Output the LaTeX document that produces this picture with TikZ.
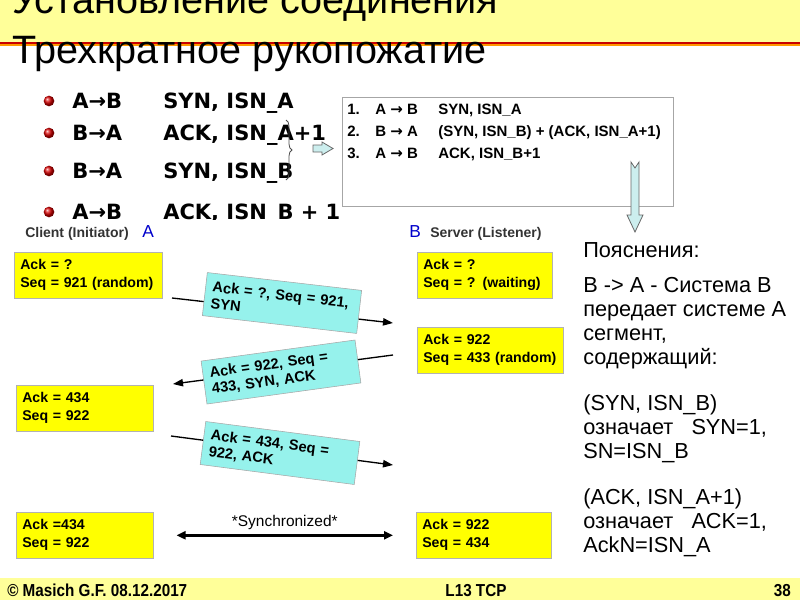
\documentclass[tikz,border=0pt]{standalone}
\usepackage{fontspec}
\setmainfont{Liberation Sans}
\newfontfamily\bulletfont{DejaVu Sans}
\newfontfamily\footfont{Liberation Sans}[FakeStretch=0.88]
\usetikzlibrary{arrows.meta,decorations.pathreplacing,shadings}

\definecolor{bandyellow}{RGB}{255,255,153}
\definecolor{boxyellow}{RGB}{255,255,0}
\definecolor{msgcyan}{RGB}{150,242,236}
\definecolor{arrowcyan}{RGB}{204,238,238}
\definecolor{sideblue}{RGB}{0,0,204}
\definecolor{titlered}{RGB}{200,0,0}
\definecolor{titleorange}{RGB}{255,153,0}

\newcommand{\msgto}{{\bulletfont →}}

\begin{document}
\begin{tikzpicture}[x=0.75pt, y=-0.75pt,
  ball/.style={circle, shading=ball, ball color=red!85!black, minimum size=8pt, inner sep=0pt},
  bul/.style={anchor=base west, inner sep=0pt, font=\bulletfont\bfseries\fontsize{15.75}{18}\selectfont},
  liststep/.style={anchor=base west, inner sep=0pt, font=\bfseries\fontsize{11.25}{13}\selectfont},
  ybox/.style={draw=gray!60, fill=boxyellow, anchor=north west, align=left, text width=#1,
               minimum height=34.5pt, inner xsep=4.5pt, inner ysep=2pt,
               font=\bfseries\fontsize{10.6}{13.5}\selectfont},
  msgbox/.style={draw=gray!70, fill=msgcyan, align=left, text width=106pt, minimum height=32.5pt,
                 inner xsep=5.25pt, font=\bfseries\fontsize{11}{12.5}\selectfont},
  msgarrow/.style={-{Triangle[length=7.5pt, width=5.5pt]}, line width=1pt},
  syncarrow/.style={{Triangle[length=6.75pt, width=6pt]}-{Triangle[length=6.75pt, width=6pt]},
                    line width=2.25pt, shorten <=17.25pt, shorten >=17.25pt},
  side/.style={anchor=base west, inner sep=0pt, font=\bfseries\fontsize{10.5}{12}\selectfont, text=black!80},
  sidelabel/.style={anchor=base west, inner sep=0pt, font=\fontsize{13}{15}\selectfont, text=sideblue},
  note/.style={anchor=north west, inner sep=0pt, align=left, font=\fontsize{16.3}{18}\selectfont},
  blockarrow/.style={draw=gray!80!black, fill=arrowcyan, line width=0.6pt},
  foot/.style={inner sep=0pt, font=\footfont\bfseries\fontsize{13}{15}\selectfont},
]
\useasboundingbox (0,0) rectangle (800,600);
\clip (0,0) rectangle (800,600);

% === TITLE BAND ===
\fill[bandyellow] (0,0) rectangle (800,42);
\draw[titlered, line width=1pt]      (0,43) -- (800,43);
\draw[titleorange, line width=1.5pt] (0,45) -- (800,45);
\node[anchor=base west, inner sep=0pt, font=\fontsize{29.7}{34}\selectfont] (title1) at (12,13) {Установление соединения};
\node[anchor=base west, inner sep=0pt, font=\fontsize{29.7}{34}\selectfont] (title2) at (12,63) {Трехкратное рукопожатие};

% === BULLETS ===
\node[ball] (b1) at (49,101) {};
\node[ball] (b2) at (49,133) {};
\node[ball] (b3) at (49,171) {};
\node[ball] (b4) at (49,212) {};
\node[bul] (r1) at (72,108.5) {A→B};   \node[bul] (r1m) at (163,108.5) {SYN, ISN\_A};
\node[bul] (r2) at (72,140.5) {B→A};   \node[bul] (r2m) at (163,140.5) {ACK, ISN\_A+1};
\node[bul] (r3) at (72,178.5) {B→A};   \node[bul] (r3m) at (163,178.5) {SYN, ISN\_B};
\node[bul] (r4) at (72,219.5) {A→B};   \node[bul] (r4m) at (163,219.5) {ACK, ISN\_B + 1};

% brace + small arrow to the list
\coordinate (brtop) at (286,120);
\coordinate (brbot) at (286,180);
\draw[gray!60!black, line width=0.6pt, decorate, decoration={brace, amplitude=4.5pt}] (brtop) -- (brbot);
\filldraw[blockarrow] (313,145) -- (322,145) -- (322,142) -- (333,148.5) -- (322,155) -- (322,152) -- (313,152) -- cycle;

% === HANDSHAKE LIST ===
\node[draw=gray!70, minimum width=248.25pt, minimum height=81.75pt, inner sep=0pt] (hsteps) at (507.5,151.5) {};
\node[liststep] (s1n) at (347,114) {1.};  \node[liststep] (s1) at (375,114) {A \msgto{} B};
\node[liststep] (s1m) at (438,114) {SYN, ISN\_A};
\node[liststep] (s2n) at (347,136) {2.};  \node[liststep] (s2) at (375,136) {B \msgto{} A};
\node[liststep] (s2m) at (438,136) {(SYN, ISN\_B) + (ACK, ISN\_A+1)};
\node[liststep] (s3n) at (347,158) {3.};  \node[liststep] (s3) at (375,158) {A \msgto{} B};
\node[liststep] (s3m) at (438,158) {ACK, ISN\_B+1};
\filldraw[blockarrow] (631,162) -- (635,168) -- (639,162) -- (639,215) -- (643,215) -- (635,232) -- (627,215) -- (631,215) -- cycle;

% === EXPLANATION ===
\node[note] (notes) at (583,242) {Пояснения:\\[8.25pt]
B -> A - Система B\\
передает системе A\\
сегмент,\\
содержащий:\\[16.5pt]
(SYN, ISN\_B)\\
означает~~~SYN=1,\\
SN=ISN\_B\\[16.5pt]
(ACK, ISN\_A+1)\\
означает~~~ACK=1,\\
AckN=ISN\_A};

% === CLIENT / SERVER TIMELINE (picture on white) ===
\fill[white] (0,220) rectangle (572,576);
\node[side] (clientlbl) at (25,237) {Client (Initiator)};
\node[sidelabel] (alabel) at (142,237) {A};
\node[sidelabel] (blabel) at (409,237) {B};
\node[side] (serverlbl) at (430,237) {Server (Listener)};

\node[ybox=102pt]  (client1) at (14,252) {Ack = ?\\Seq = 921 (random)};
\node[ybox=93.75pt] (client2) at (16,385) {Ack = 434\\Seq = 922};
\node[ybox=93.75pt] (client3) at (16,512) {Ack =434\\Seq = 922};
\node[ybox=92.25pt] (server1) at (417,252) {Ack = ?\\Seq = ? (waiting)};
\node[ybox=100.5pt] (server2) at (417,327) {Ack = 922\\Seq = 433 (random)};
\node[ybox=92.25pt] (server3) at (416,512) {Ack = 922\\Seq = 434};

\coordinate (m1from) at (172,298);
\coordinate (m1to)   at (393,323);
\coordinate (m2from) at (393,355);
\coordinate (m2to)   at (173,384);
\coordinate (m3from) at (171,436);
\coordinate (m3to)   at (393,465);
\draw[msgarrow] (m1from) -- (m1to);
\draw[msgarrow] (m2from) -- (m2to);
\draw[msgarrow] (m3from) -- (m3to);
\node[msgbox, rotate=-6.6] (msg1) at (282,303) {Ack = ?, Seq = 921,\\SYN};
\node[msgbox, rotate=7.8]  (msg2) at (281,372) {Ack = 922, Seq =\\433, SYN, ACK};
\node[msgbox, rotate=-7.4] (msg3) at (280,453) {Ack = 434, Seq =\\922, ACK};

\draw[syncarrow] (client3) -- node[above=3pt, inner sep=0pt, font=\fontsize{11.6}{13}\selectfont] (synclbl) {*Synchronized*} (server3);

% === FOOTER ===
\fill[bandyellow] (0,578) rectangle (800,600);
\node[foot, anchor=base west] (author) at (7,596) {© Masich G.F. 08.12.2017};
\node[foot, anchor=base] (lecture) at (476,596) {L13 TCP};
\node[foot, anchor=base east] (pageno) at (791,596) {38};
\end{tikzpicture}
\end{document}
